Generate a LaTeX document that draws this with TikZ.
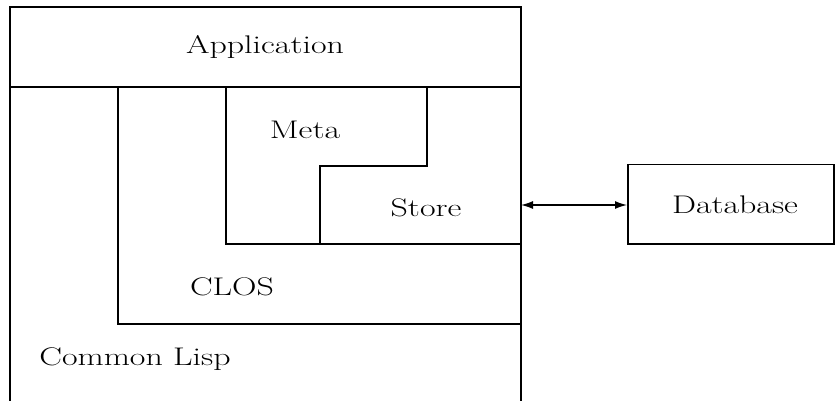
\documentclass[tikz,border=0pt]{standalone}
\usepackage{fontspec}
\setmainfont{Latin Modern Roman}
\usetikzlibrary{arrows.meta}
\usepackage{graphicx}
\begin{document}
\begin{tikzpicture}[x=1pt,y=-1pt,line width=1.4pt,
  lbl/.style={font=\fontsize{25.5}{30}\selectfont, anchor=base, inner sep=0pt},
  dbbox/.style={draw, line width=1.5pt, minimum width=206pt, minimum height=79pt, anchor=north west, inner sep=0pt},
  link/.style={{Latex[length=12pt,width=8pt]}-{Latex[length=12pt,width=8pt]}, line width=1.3pt}]
\useasboundingbox (0,0) rectangle (836,401);
% Common Lisp outer frame and Application box
\draw (10,401) -- (10,7) -- (521,7) -- (521,401);
\draw (10,87) -- (521,87);
% CLOS
\draw (118,87) -- (118,324) -- (521,324);
% Meta / Store
\draw (226,87) -- (226,244) -- (521,244);
\draw (427,87) -- (427,166) -- (320,166) -- (320,244);
% labels
\node[lbl] (app) at (265,54) {\scalebox{1.33}[1]{Application}};
\node[lbl] (meta) at (305,139) {\scalebox{1.33}[1]{Meta}};
\node[lbl] (store) at (426,216) {\scalebox{1.33}[1]{Store}};
\node[lbl] (clos) at (232,295) {\scalebox{1.33}[1]{CLOS}};
\node[lbl] (cl) at (135,365) {\scalebox{1.33}[1]{Common Lisp}};
% Database
\node[dbbox] (db) at (627,164) {};
\node[lbl] (dbl) at (735,214) {\scalebox{1.33}[1]{Database}};
\coordinate (port) at (521,205);
\draw[link] (port) -- (db.west |- port);
\end{tikzpicture}
\end{document}
